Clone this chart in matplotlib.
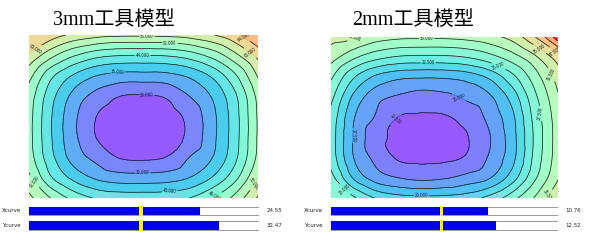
import numpy as np
import matplotlib
matplotlib.use("Agg")
import matplotlib.pyplot as plt
import matplotlib.tri as mtri
from matplotlib.colors import Normalize

plt.rcParams['font.family'] = ['Noto Sans CJK SC', 'DejaVu Sans']

# ---------------- data ----------------
titles = ["3mm工具模型", "2mm工具模型"]

# surface grid of the 3mm model (rows top->bottom, columns left->right)
grid_3mm = [
    [63.0, 61.9, 59.0, 57.4, 56.8, 56.8, 57.0, 57.8, 59.7, 63.1, 67.8],
    [59.3, 53.0, 48.2, 45.2, 44.1, 44.0, 44.3, 45.9, 49.4, 54.9, 61.3],
    [53.4, 44.7, 39.3, 35.9, 34.6, 34.5, 34.8, 36.7, 40.7, 47.4, 56.4],
    [50.3, 41.2, 34.5, 30.5, 28.0, 27.7, 28.5, 32.0, 36.4, 43.3, 53.2],
    [49.5, 40.0, 32.7, 27.8, 25.9, 25.4, 26.4, 29.1, 34.8, 42.4, 52.5],
    [49.4, 40.0, 32.7, 27.7, 25.7, 25.3, 26.3, 28.9, 34.8, 42.4, 52.5],
    [50.0, 40.9, 34.0, 30.7, 27.7, 27.3, 28.1, 32.0, 35.9, 43.1, 53.0],
    [53.0, 44.1, 38.7, 35.2, 33.8, 33.7, 34.1, 36.0, 40.2, 46.8, 56.1],
    [57.0, 51.6, 46.5, 43.5, 42.7, 42.6, 42.8, 44.0, 48.0, 53.3, 60.5],
]
levels_3mm = [24, 28, 32, 36, 40, 44, 48, 52, 56, 60, 64, 68]
color_range_3mm = (24, 78)

# surface grid of the 2mm model
grid_2mm = [
    [33.0, 32.8, 31.3, 30.6, 30.5, 30.5, 30.9, 31.8, 33.5, 37.5, 44.0],
    [31.2, 28.0, 25.8, 24.7, 24.5, 24.5, 25.1, 26.6, 28.9, 32.1, 36.4],
    [27.9, 22.7, 19.4, 18.0, 17.7, 17.8, 18.5, 20.5, 24.3, 28.9, 33.6],
    [25.7, 19.4, 15.9, 14.6, 13.9, 14.3, 15.5, 17.1, 21.1, 27.0, 32.2],
    [24.3, 17.7, 14.7, 12.4, 12.2, 12.3, 13.3, 15.8, 19.5, 26.0, 31.5],
    [23.9, 17.3, 13.4, 12.0, 11.6, 11.8, 12.4, 14.9, 19.1, 25.6, 31.3],
    [24.1, 17.5, 14.3, 12.2, 12.0, 12.1, 12.8, 15.4, 19.3, 25.9, 31.4],
    [26.0, 19.7, 16.3, 15.0, 14.4, 14.8, 15.9, 17.4, 21.4, 27.2, 32.3],
    [27.5, 25.4, 22.3, 21.0, 20.7, 20.8, 21.4, 23.4, 26.6, 30.3, 34.8],
]
levels_2mm = [10, 12.5, 15, 17.5, 20, 22.5, 25, 27.5, 30, 32.5, 35, 37.5, 40, 42.5]
color_range_2mm = (10, 48)

bar_labels = ["Xcurve", "Ycurve"]
bar_fill_3mm = [0.742, 0.825]
bar_fill_2mm = [0.693, 0.728]
bar_values_3mm = ["24.55", "32.47"]
bar_values_2mm = ["10.76", "12.52"]
marker_pos = [0.48, 0.48]

# ---------------- figure ----------------
W, H = 591, 246
fig = plt.figure(figsize=(W / 100, H / 100), dpi=100)


def px_axes(x0, y0, x1, y1):
    return fig.add_axes([x0 / W, 1 - y1 / H, (x1 - x0) / W, (y1 - y0) / H])


def draw_contour(ax, grid, levels, crange):
    z = np.array(grid, dtype=float)
    ny, nx = z.shape
    gx, gy = np.meshgrid(np.arange(nx), np.arange(ny))
    tri = mtri.Triangulation(gx.ravel().astype(float), gy.ravel().astype(float))
    interp = mtri.CubicTriInterpolator(tri, z.ravel(), kind='geom')
    fx, fy = np.meshgrid(np.linspace(0, nx - 1, 300), np.linspace(0, ny - 1, 220))
    fz = interp(fx, fy)
    norm = Normalize(vmin=crange[0], vmax=crange[1])
    ax.contourf(fx, fy, fz, levels=levels, cmap='rainbow', norm=norm, alpha=0.72, extend='both')
    cs = ax.contour(fx, fy, fz, levels=levels, colors='#222222', linewidths=0.55)
    ax.clabel(cs, fmt='%.3f', fontsize=3.2, inline=True, inline_spacing=1)
    ax.set_xlim(0, nx - 1)
    ax.set_ylim(ny - 1, 0)
    ax.axis('off')


def draw_bars(ax, fills, values):
    idx = np.arange(len(bar_labels))
    ax.barh(idx, [1.0] * len(idx), height=0.58, color='white', edgecolor='#999999', linewidth=0.7)
    ax.barh(idx, fills, height=0.58, color='#0000ee', edgecolor='none')
    ax.barh(idx, [0.015] * len(idx), left=marker_pos, height=0.7, color='#ffee00', edgecolor='none')
    ax.set_xlim(0, 1)
    ax.set_ylim(len(idx) - 0.5, -0.5)
    ax.axis('off')
    for i, lab in enumerate(bar_labels):
        ax.text(-0.12, i, lab, ha='left', va='center', fontsize=4, color='#222222',
                transform=ax.get_yaxis_transform(), family='DejaVu Sans')
        ax.text(1.035, i, values[i], ha='left', va='center', fontsize=4, color='#222222',
                transform=ax.get_yaxis_transform(), family='DejaVu Sans')


ax1 = px_axes(29, 35, 258, 198)
draw_contour(ax1, grid_3mm, levels_3mm, color_range_3mm)
ax2 = px_axes(331, 37, 558, 198)
draw_contour(ax2, grid_2mm, levels_2mm, color_range_2mm)

title_family = ['Liberation Serif', 'Noto Sans CJK SC']
fig.text(114 / W, 1 - 20 / H, titles[0], ha='center', va='center', fontsize=14.5,
         family=title_family)
fig.text(413 / W, 1 - 20 / H, titles[1], ha='center', va='center', fontsize=14.5,
         family=title_family)

b1 = px_axes(29.3, 203.4, 258.7, 233.0)
draw_bars(b1, bar_fill_3mm, bar_values_3mm)
b2 = px_axes(331, 203.4, 557.7, 233.0)
draw_bars(b2, bar_fill_2mm, bar_values_2mm)

fig.savefig("out.png", dpi=100, facecolor='white')
